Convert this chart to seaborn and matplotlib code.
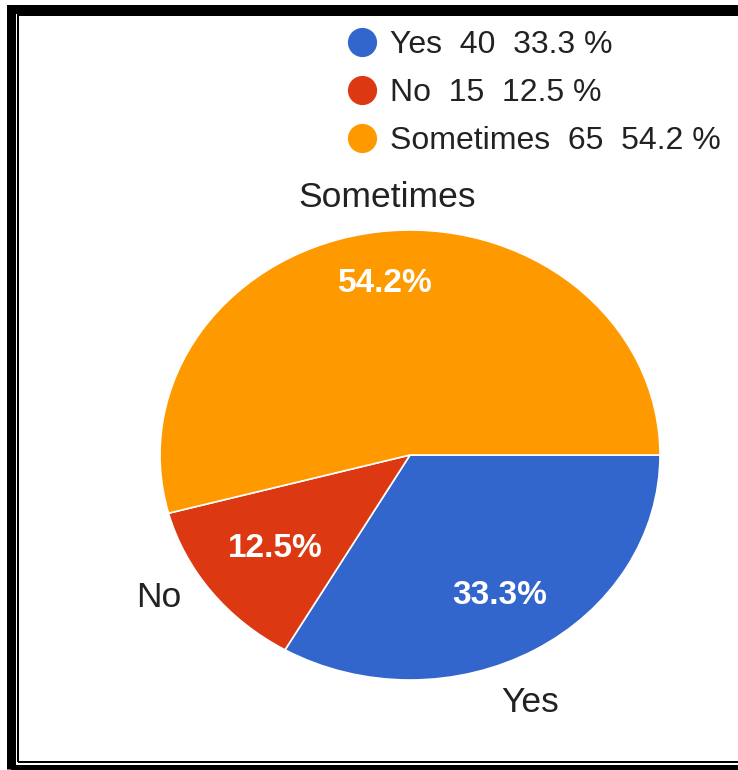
import matplotlib.pyplot as plt
import seaborn as sns
import numpy as np
from matplotlib.lines import Line2D
from matplotlib.patches import Rectangle

categories = ["Yes", "No", "Sometimes"]
counts = [40, 15, 65]
colors = ["#3366CC", "#DC3912", "#FF9900"]

sns.set_theme(style="white")
plt.rcParams['font.family'] = ['Liberation Sans', 'DejaVu Sans']

W, H = 738, 770
fig = plt.figure(figsize=(W / 100, H / 100), dpi=100)
fig.patch.set_facecolor("white")

# pie axes sized so the pie is a slight ellipse like the original
ax = fig.add_axes([160 / W, 90 / H, 500 / W, 450 / H])
wedges, texts, autotexts = ax.pie(
    counts,
    colors=colors,
    startangle=0,
    counterclock=False,
    autopct="%.1f%%",
    pctdistance=0.72,
    wedgeprops=dict(edgecolor="white", linewidth=1.2),
    textprops=dict(color="white", fontsize=24, fontweight="bold"),
)
ax.set_aspect("auto")
ax.set_xlim(-1, 1)
ax.set_ylim(-1, 1)
ax.axis("off")

# per-slice distances for the labels (google-style placement)
pct_r = {"Yes": 0.72, "No": 0.68, "Sometimes": 0.77}
label_nudge = {"Yes": -6.5, "No": -5.3, "Sometimes": -3.0}
label_r = {"Yes": 1.2, "No": 1.19, "Sometimes": 1.15}
for w, at, name in zip(wedges, autotexts, categories):
    mid = np.deg2rad((w.theta1 + w.theta2) / 2)
    at.set_position((pct_r[name] * np.cos(mid), pct_r[name] * np.sin(mid)))
    ang = np.deg2rad((w.theta1 + w.theta2) / 2 + label_nudge[name])
    r = label_r[name]
    ax.text(r * np.cos(ang), r * np.sin(ang), name, ha="center", va="center",
            fontsize=25.5, color="#222222")

# legend
total = sum(counts)
handles = [
    Line2D([], [], marker="o", linestyle="none", markersize=20,
           markerfacecolor=c, markeredgecolor=c)
    for c in colors
]
labels = [f"{n}  {v}  {v / total * 100:.1f} %" for n, v in zip(categories, counts)]
fig.legend(handles, labels, loc="upper left",
           bbox_to_anchor=(346 / W, 1 - 30 / H),
           frameon=False, fontsize=23, borderpad=0, borderaxespad=0,
           handlelength=1.0, handletextpad=0.38, labelspacing=0.56,
           labelcolor="#222222")

# double black frame
fig.add_artist(Rectangle((11 / W, (H - 769) / H), 760 / W, 760.5 / H,
                         transform=fig.transFigure, fill=False,
                         edgecolor="black", linewidth=9 * 0.72))
fig.add_artist(Rectangle((18 / W, (H - 762) / H), 740 / W, 747 / H,
                         transform=fig.transFigure, fill=False,
                         edgecolor="black", linewidth=2 * 0.72))

plt.savefig("out.png", dpi=100)
